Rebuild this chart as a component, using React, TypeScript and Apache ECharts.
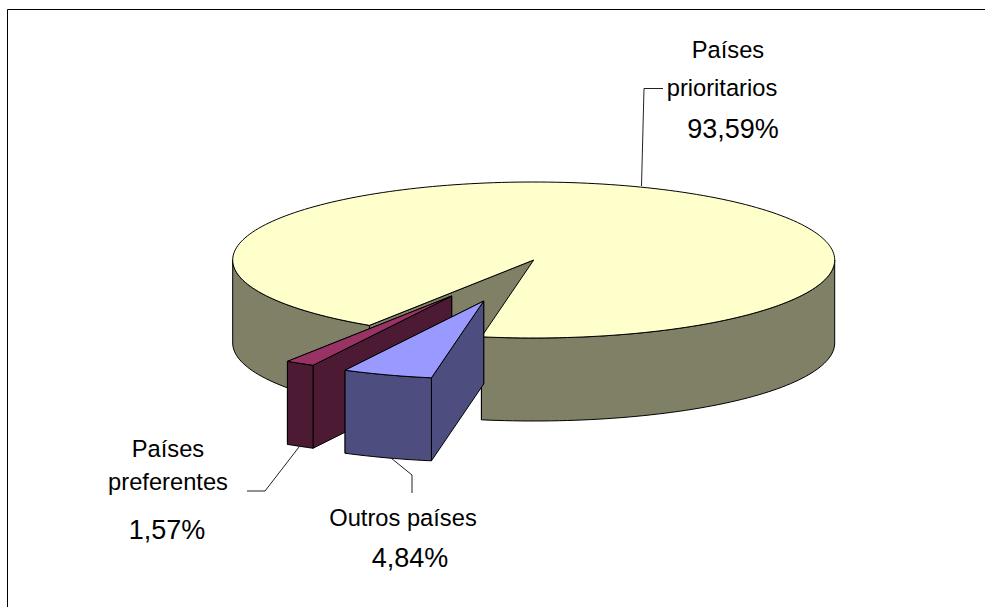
import React, { useEffect, useRef } from "react";
import * as echarts from "echarts";

// Data (draw order: back to front)
const categories = ["Países prioritarios", "Países preferentes", "Outros países"];
const nameLines = [["Países", "prioritarios"], ["Países", "preferentes"], ["Outros países"]];
const shares = [93.59, 1.57, 4.84];

// Layout of the projected pie
const CX = 533.7, CY = 260, RX = 301, RY = 78, DEPTH = 83;
const START_DEG = 100; // ellipse parameter where the first (front-most) slice begins
const sweepOrder = [2, 1, 0]; // slices follow each other clockwise in this order
const explode: number[][] = [[0, 0], [-82, 36], [-50, 41]];
const topColors = ["#ffffcc", "#993366", "#9999ff"];
const sideColors = ["#808066", "#4d1a33", "#4d4d80"];
const FONT = '"Liberation Sans", Arial, sans-serif';

const nameLayout: number[][][] = [
  [[728, 50], [722, 88]],
  [[168, 449], [168, 482]],
  [[403, 518]],
];
const pctLayout: number[][] = [[733, 129], [167, 530], [410, 558]];
const leaders: number[][][] = [
  [[641.5, 186], [644, 88.5], [663, 88.5]],
  [[299, 447], [265, 491], [247, 491]],
  [[391, 458], [412, 475], [412, 493]],
];

const rad = (d: number) => (d * Math.PI) / 180;
const pt = (deg: number, ox: number, oy: number, dz = 0) => [
  CX + ox + RX * Math.cos(rad(deg)),
  CY + oy + RY * Math.sin(rad(deg)) + dz,
];
const arc = (a: number, b: number, ox: number, oy: number, dz = 0) => {
  const out: number[][] = [];
  const n = Math.max(2, Math.ceil(Math.abs(b - a) / 1.5));
  for (let i = 0; i <= n; i++) out.push(pt(a + ((b - a) * i) / n, ox, oy, dz));
  return out;
};
const sliceAngles = (values: number[]) => {
  const total = values.reduce((s, v) => s + v, 0);
  const res: number[][] = [];
  let cur = START_DEG;
  for (const idx of sweepOrder) {
    const next = cur + (values[idx] / total) * 360;
    res[idx] = [cur, next];
    cur = next;
  }
  return res;
};
const angles = sliceAngles(shares);

function renderSlice(params: any, api: any) {
  const i = params.dataIndex;
  const value = api.value(0) as number;
  const [a, b] = angles[i];
  const [ox, oy] = explode[i];
  const edge = { stroke: "#000000", lineWidth: 1, lineJoin: "round" };
  const side = { ...edge, fill: sideColors[i] };
  const children: any[] = [];
  const poly = (points: number[][], style: any) =>
    children.push({ type: "polygon", silent: true, shape: { points }, style });
  const apex = [CX + ox, CY + oy];
  const apexLow = [CX + ox, CY + oy + DEPTH];

  // Radial wall at the end of the sweep: visible when it faces the viewer
  if (Math.sin(rad(b - 90)) > 0) {
    poly([apex, pt(b, ox, oy), pt(b, ox, oy, DEPTH), apexLow], side);
  }
  // Radial wall at the start of the sweep
  if (Math.sin(rad(a - 90)) > 0) {
    poly([apex, pt(a, ox, oy), pt(a, ox, oy, DEPTH), apexLow], side);
  }
  // Outer walls: only the front half of the ellipse (parameter 0..180 mod 360)
  const segments: number[][] = [];
  for (const [lo, hi] of [[0, 180], [360, 540]]) {
    const s = Math.max(a, lo), e = Math.min(b, hi);
    if (e > s) segments.push([s, e]);
  }
  for (const [s, e] of segments) {
    poly([...arc(s, e, ox, oy), ...arc(e, s, ox, oy, DEPTH)], side);
  }
  // Top face
  poly([apex, ...arc(a, b, ox, oy)], { ...edge, fill: topColors[i] });

  // Leader line and labels
  children.push({
    type: "polyline",
    silent: true,
    shape: { points: leaders[i] },
    style: { stroke: "#222222", lineWidth: 1, fill: null },
  });
  nameLines[i].forEach((line, k) => {
    children.push({
      type: "text",
      silent: true,
      style: {
        text: line, x: nameLayout[i][k][0], y: nameLayout[i][k][1],
        align: "center", verticalAlign: "middle", textAlign: "center", textVerticalAlign: "middle",
        fontSize: 23.7, fontFamily: FONT, fill: "#000000",
      },
    });
  });
  children.push({
    type: "text",
    silent: true,
    style: {
      text: value.toFixed(2).replace(".", ",") + "%", x: pctLayout[i][0], y: pctLayout[i][1],
      align: "center", verticalAlign: "middle", textAlign: "center", textVerticalAlign: "middle",
      fontSize: 27, fontFamily: FONT, fill: "#000000",
    },
  });
  return { type: "group", children };
}

export default function App() {
  const ref = useRef<HTMLDivElement>(null);
  useEffect(() => {
    document.body.style.margin = "0";
    const chart = echarts.init(ref.current!, null, { renderer: "svg" });
    chart.setOption({
      animation: false,
      backgroundColor: "#ffffff",
      tooltip: { show: false },
      graphic: [
        {
          type: "polyline",
          silent: true,
          shape: { points: [[7.5, 607], [7.5, 9.5], [985, 9.5]] },
          style: { stroke: "#000000", lineWidth: 1, fill: null },
        },
      ],
      series: [
        {
          type: "custom",
          coordinateSystem: "none",
          renderItem: renderSlice,
          data: shares.map((v, i) => ({ name: categories[i], value: [v] })),
        },
      ],
    });
    return () => chart.dispose();
  }, []);
  return <div ref={ref} style={{ width: 985, height: 607 }} />;
}
